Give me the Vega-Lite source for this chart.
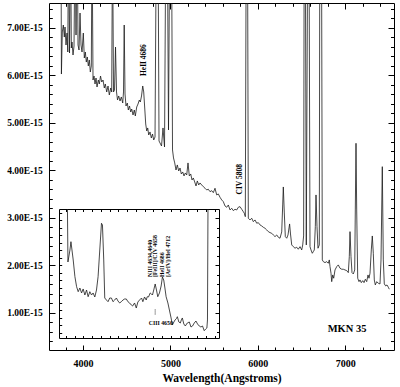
{
  "$schema": "https://vega.github.io/schema/vega-lite/v6.json",
  "width": 345,
  "height": 347,
  "autosize": "none",
  "padding": {"left": 49, "top": 3, "right": 6, "bottom": 37},
  "background": "white",
  "config": {
    "view": {"stroke": "black", "strokeWidth": 1},
    "axis": {"labelFont": "Liberation Serif", "labelFontWeight": "bold", "labelColor": "black", "tickColor": "black", "domainColor": "black", "grid": false, "titleFont": "Liberation Serif", "titleFontWeight": "bold", "titleColor": "black", "tickWidth": 1, "labelOverlap": false, "labelFlush": false},
    "text": {"font": "Liberation Serif", "fontWeight": "bold", "color": "black"}
  },
  "datasets": {
    "main": [
      {"wavelength":3748.5,"flux":9},{"wavelength":3753.1,"flux":6.026},{"wavelength":3763.4,"flux":6.91},{"wavelength":3774.9,"flux":7.057},{"wavelength":3786.3,"flux":6.804},{"wavelength":3794.3,"flux":7.015},{"wavelength":3805.7,"flux":6.636},{"wavelength":3817.2,"flux":6.889},{"wavelength":3826.3,"flux":6.489},{"wavelength":3833.2,"flux":9},{"wavelength":3845.8,"flux":6.468},{"wavelength":3858.4,"flux":9},{"wavelength":3866.4,"flux":6.573},{"wavelength":3874.4,"flux":6.699},{"wavelength":3885.8,"flux":6.426},{"wavelength":3897.3,"flux":6.615},{"wavelength":3908.7,"flux":9},{"wavelength":3920.1,"flux":6.846},{"wavelength":3933.9,"flux":9},{"wavelength":3943.0,"flux":6.636},{"wavelength":3954.5,"flux":6.531},{"wavelength":3965.9,"flux":7.309},{"wavelength":3977.3,"flux":6.636},{"wavelength":3988.8,"flux":6.489},{"wavelength":4003.6,"flux":6.888},{"wavelength":4015.1,"flux":6.363},{"wavelength":4026.5,"flux":6.489},{"wavelength":4038.0,"flux":6.278},{"wavelength":4049.4,"flux":6.384},{"wavelength":4060.9,"flux":6.195},{"wavelength":4072.3,"flux":6.321},{"wavelength":4083.7,"flux":6.068},{"wavelength":4095.2,"flux":6.195},{"wavelength":4103.2,"flux":9},{"wavelength":4114.6,"flux":5.9},{"wavelength":4126.1,"flux":5.984},{"wavelength":4137.5,"flux":5.816},{"wavelength":4149.0,"flux":5.942},{"wavelength":4160.4,"flux":5.753},{"wavelength":4175.3,"flux":5.9},{"wavelength":4186.7,"flux":5.816},{"wavelength":4200.4,"flux":5.984},{"wavelength":4214.1,"flux":5.858},{"wavelength":4229.0,"flux":5.9},{"wavelength":4243.9,"flux":5.732},{"wavelength":4255.3,"flux":5.816},{"wavelength":4271.3,"flux":5.648},{"wavelength":4286.2,"flux":5.774},{"wavelength":4301.1,"flux":5.585},{"wavelength":4317.1,"flux":5.732},{"wavelength":4328.5,"flux":5.648},{"wavelength":4337.7,"flux":9},{"wavelength":4349.1,"flux":5.648},{"wavelength":4360.6,"flux":5.69},{"wavelength":4372.0,"flux":6.594},{"wavelength":4383.5,"flux":5.648},{"wavelength":4394.9,"flux":5.48},{"wavelength":4408.7,"flux":5.564},{"wavelength":4423.5,"flux":5.458},{"wavelength":4438.4,"flux":5.543},{"wavelength":4454.4,"flux":5.416},{"wavelength":4463.5,"flux":5.648},{"wavelength":4471.5,"flux":7.057},{"wavelength":4480.7,"flux":5.606},{"wavelength":4492.1,"flux":5.353},{"wavelength":4507.0,"flux":5.416},{"wavelength":4518.5,"flux":5.269},{"wavelength":4532.2,"flux":5.353},{"wavelength":4545.9,"flux":5.227},{"wavelength":4557.3,"flux":5.29},{"wavelength":4572.2,"flux":5.164},{"wavelength":4587.1,"flux":5.269},{"wavelength":4598.5,"flux":5.143},{"wavelength":4614.5,"flux":5.332},{"wavelength":4629.4,"flux":5.395},{"wavelength":4644.3,"flux":5.479},{"wavelength":4655.7,"flux":5.437},{"wavelength":4669.5,"flux":5.564},{"wavelength":4683.2,"flux":5.774},{"wavelength":4694.6,"flux":5.648},{"wavelength":4706.1,"flux":5.311},{"wavelength":4717.5,"flux":4.975},{"wavelength":4729.0,"flux":4.828},{"wavelength":4740.4,"flux":4.891},{"wavelength":4751.8,"flux":4.743},{"wavelength":4766.7,"flux":4.807},{"wavelength":4781.6,"flux":4.68},{"wavelength":4795.3,"flux":4.764},{"wavelength":4809.0,"flux":4.638},{"wavelength":4823.9,"flux":4.701},{"wavelength":4838.8,"flux":9},{"wavelength":4858.2,"flux":9},{"wavelength":4869.7,"flux":4.617},{"wavelength":4881.1,"flux":4.575},{"wavelength":4898.3,"flux":4.512},{"wavelength":4915.4,"flux":4.891},{"wavelength":4932.6,"flux":4.491},{"wavelength":4947.5,"flux":9},{"wavelength":4964.6,"flux":9},{"wavelength":4978.3,"flux":4.849},{"wavelength":4992.1,"flux":9},{"wavelength":5012.7,"flux":9},{"wavelength":5024.1,"flux":4.428},{"wavelength":5035.6,"flux":4.26},{"wavelength":5049.3,"flux":4.155},{"wavelength":5064.1,"flux":4.007},{"wavelength":5079.0,"flux":4.113},{"wavelength":5095.0,"flux":3.986},{"wavelength":5109.9,"flux":4.049},{"wavelength":5124.8,"flux":3.923},{"wavelength":5140.8,"flux":3.965},{"wavelength":5155.7,"flux":3.881},{"wavelength":5170.6,"flux":3.944},{"wavelength":5186.7,"flux":3.902},{"wavelength":5201.4,"flux":4.155},{"wavelength":5216.3,"flux":3.881},{"wavelength":5232.3,"flux":3.923},{"wavelength":5247.2,"flux":3.797},{"wavelength":5262.1,"flux":3.839},{"wavelength":5278.1,"flux":3.755},{"wavelength":5293.0,"flux":3.671},{"wavelength":5307.9,"flux":3.776},{"wavelength":5323.9,"flux":3.692},{"wavelength":5338.7,"flux":3.734},
      {"wavelength":5358.1,"flux":3.692},{"wavelength":5376.5,"flux":3.656},{"wavelength":5396.1,"flux":3.623},{"wavelength":5415.1,"flux":3.587},{"wavelength":5433.6,"flux":3.602},{"wavelength":5453.1,"flux":3.551},{"wavelength":5472.5,"flux":3.572},{"wavelength":5490.9,"flux":3.53},{"wavelength":5510.3,"flux":3.623},{"wavelength":5529.7,"flux":3.482},{"wavelength":5548.1,"flux":3.503},{"wavelength":5567.5,"flux":3.433},{"wavelength":5587.0,"flux":3.376},{"wavelength":5605.3,"flux":3.341},{"wavelength":5624.7,"flux":3.25},{"wavelength":5644.2,"flux":3.223},{"wavelength":5662.5,"flux":3.271},{"wavelength":5682.1,"flux":3.166},{"wavelength":5701.3,"flux":3.202},{"wavelength":5719.7,"flux":3.152},{"wavelength":5739.1,"flux":3.181},{"wavelength":5758.5,"flux":3.166},{"wavelength":5776.9,"flux":3.223},{"wavelength":5796.3,"flux":3.236},{"wavelength":5815.7,"flux":3.181},{"wavelength":5834.0,"flux":3.131},{"wavelength":5845.5,"flux":3.097},{"wavelength":5857.0,"flux":3.025},{"wavelength":5867.2,"flux":9},{"wavelength":5882.2,"flux":9},{"wavelength":5891.3,"flux":2.992},{"wavelength":5910.7,"flux":2.956},{"wavelength":5930.2,"flux":2.992},{"wavelength":5948.5,"flux":2.92},{"wavelength":5967.9,"flux":2.956},{"wavelength":5987.4,"flux":2.887},{"wavelength":6005.7,"flux":2.899},{"wavelength":6025.1,"flux":2.851},{"wavelength":6044.6,"flux":2.83},{"wavelength":6062.9,"flux":2.802},{"wavelength":6082.3,"flux":2.781},{"wavelength":6101.7,"flux":2.746},{"wavelength":6120.1,"flux":2.71},{"wavelength":6139.5,"flux":2.689},{"wavelength":6159.0,"flux":2.676},{"wavelength":6177.3,"flux":2.64},{"wavelength":6196.7,"flux":2.605},{"wavelength":6216.2,"flux":2.64},{"wavelength":6234.5,"flux":2.592},{"wavelength":6253.9,"flux":2.571},{"wavelength":6273.4,"flux":2.704},{"wavelength":6284.8,"flux":3.271},{"wavelength":6291.7,"flux":3.65},{"wavelength":6303.1,"flux":3.103},{"wavelength":6314.6,"flux":2.605},{"wavelength":6330.7,"flux":2.571},{"wavelength":6345.4,"flux":2.64},{"wavelength":6356.9,"flux":2.788},{"wavelength":6363.7,"flux":2.872},{"wavelength":6374.0,"flux":2.661},{"wavelength":6387.7,"flux":2.43},{"wavelength":6406.0,"flux":2.394},{"wavelength":6425.5,"flux":2.361},{"wavelength":6444.9,"flux":2.382},{"wavelength":6463.2,"flux":2.34},{"wavelength":6482.7,"flux":2.394},{"wavelength":6502.1,"flux":2.325},{"wavelength":6513.6,"flux":2.43},{"wavelength":6523.9,"flux":2.619},{"wavelength":6530.7,"flux":9},{"wavelength":6543.3,"flux":9},{"wavelength":6554.8,"flux":2.43},{"wavelength":6570.7,"flux":9},{"wavelength":6585.7,"flux":9},{"wavelength":6597.1,"flux":2.394},{"wavelength":6608.5,"flux":2.325},{"wavelength":6623.4,"flux":2.255},{"wavelength":6634.9,"flux":2.289},{"wavelength":6646.3,"flux":2.325},{"wavelength":6657.8,"flux":2.815},{"wavelength":6665.7,"flux":3.482},{"wavelength":6677.2,"flux":2.815},{"wavelength":6688.6,"flux":2.361},{"wavelength":6703.5,"flux":2.43},{"wavelength":6709.2,"flux":9},{"wavelength":6728.7,"flux":9},{"wavelength":6737.8,"flux":2.115},{"wavelength":6749.3,"flux":2.079},{"wavelength":6768.7,"flux":2.058},{"wavelength":6788.2,"flux":2.079},{"wavelength":6806.5,"flux":2.045},{"wavelength":6817.9,"flux":2.115},{"wavelength":6825.9,"flux":1.974},{"wavelength":6837.3,"flux":1.835},{"wavelength":6845.4,"flux":1.658},{"wavelength":6856.8,"flux":1.799},{"wavelength":6868.2,"flux":1.73},{"wavelength":6883.1,"flux":1.904},{"wavelength":6902.6,"flux":1.974},{"wavelength":6920.9,"flux":2.01},{"wavelength":6940.3,"flux":1.94},{"wavelength":6959.8,"flux":1.919},{"wavelength":6978.1,"flux":1.919},{"wavelength":6997.5,"flux":1.904},{"wavelength":7017.0,"flux":1.89},{"wavelength":7035.3,"flux":1.848},{"wavelength":7046.7,"flux":2.184},{"wavelength":7054.7,"flux":2.71},{"wavelength":7066.1,"flux":2.184},{"wavelength":7077.6,"flux":1.848},{"wavelength":7092.5,"flux":1.82},{"wavelength":7108.5,"flux":1.904},{"wavelength":7115.3,"flux":3.166},{"wavelength":7123.3,"flux":4.569},{"wavelength":7131.3,"flux":3.166},{"wavelength":7142.8,"flux":1.73},{"wavelength":7157.7,"flux":1.658},{"wavelength":7169.1,"flux":1.694},{"wavelength":7184.0,"flux":1.637},{"wavelength":7200.0,"flux":1.679},{"wavelength":7214.9,"flux":1.637},{"wavelength":7229.8,"flux":1.709},{"wavelength":7245.7,"flux":1.658},{"wavelength":7260.6,"flux":1.799},{"wavelength":7272.1,"flux":1.73},{"wavelength":7283.5,"flux":1.835},{"wavelength":7298.4,"flux":2.325},{"wavelength":7309.8,"flux":2.619},{"wavelength":7321.3,"flux":2.255},{"wavelength":7332.7,"flux":1.694},{"wavelength":7344.1,"flux":1.589},{"wavelength":7360.2,"flux":1.658},{"wavelength":7378.5,"flux":1.624},{"wavelength":7397.9,"flux":1.61},{"wavelength":7409.3,"flux":2.115},{"wavelength":7424.2,"flux":4.077},{"wavelength":7435.6,"flux":2.115},{"wavelength":7447.1,"flux":1.61},{"wavelength":7463.1,"flux":1.568},{"wavelength":7478.0,"flux":1.589},{"wavelength":7492.8,"flux":1.541},{"wavelength":7504.3,"flux":1.499}
    ],
    "inset": [
      {"wavelength":4138.3,"flux":8.5},{"wavelength":4141.2,"flux":6.109},{"wavelength":4152.6,"flux":6.378},{"wavelength":4158.3,"flux":6.565},{"wavelength":4171.3,"flux":6.154},{"wavelength":4181.0,"flux":5.778},{"wavelength":4190.7,"flux":5.553},{"wavelength":4199.8,"flux":5.441},{"wavelength":4209.4,"flux":5.524},{"wavelength":4219.1,"flux":5.412},{"wavelength":4228.2,"flux":5.502},{"wavelength":4237.9,"flux":5.367},{"wavelength":4247.5,"flux":5.479},{"wavelength":4256.6,"flux":5.328},{"wavelength":4266.3,"flux":5.441},{"wavelength":4276.0,"flux":5.367},{"wavelength":4285.1,"flux":5.412},{"wavelength":4294.8,"flux":5.322},{"wavelength":4304.4,"flux":5.479},{"wavelength":4313.5,"flux":5.778},{"wavelength":4323.2,"flux":6.378},{"wavelength":4332.9,"flux":6.979},{"wavelength":4338.5,"flux":6.94},{"wavelength":4345.9,"flux":6.154},{"wavelength":4351.6,"flux":5.299},{"wavelength":4361.3,"flux":5.254},{"wavelength":4370.4,"flux":5.216},{"wavelength":4380.1,"flux":5.299},{"wavelength":4389.7,"flux":5.299},{"wavelength":4398.8,"flux":5.216},{"wavelength":4408.5,"flux":5.254},{"wavelength":4418.2,"flux":5.299},{"wavelength":4427.3,"flux":5.232},{"wavelength":4436.9,"flux":5.187},{"wavelength":4446.6,"flux":5.216},{"wavelength":4455.7,"flux":5.254},{"wavelength":4465.4,"flux":5.277},{"wavelength":4475.0,"flux":5.277},{"wavelength":4484.1,"flux":5.216},{"wavelength":4493.8,"flux":5.187},{"wavelength":4503.5,"flux":5.142},{"wavelength":4510.9,"flux":5.119},{"wavelength":4522.3,"flux":5.187},{"wavelength":4531.9,"flux":5.074},{"wavelength":4541.0,"flux":5.209},{"wavelength":4550.7,"flux":5.254},{"wavelength":4562.1,"flux":5.299},{"wavelength":4569.5,"flux":5.216},{"wavelength":4579.1,"flux":5.322},{"wavelength":4588.8,"flux":5.254},{"wavelength":4594.5,"flux":5.328},{"wavelength":4601.9,"flux":5.322},{"wavelength":4611.6,"flux":5.412},{"wavelength":4619.0,"flux":5.389},{"wavelength":4624.6,"flux":5.367},{"wavelength":4633.2,"flux":5.502},{"wavelength":4640.0,"flux":5.614},{"wavelength":4647.4,"flux":5.479},{"wavelength":4654.8,"flux":5.328},{"wavelength":4664.4,"flux":5.412},{"wavelength":4674.1,"flux":5.569},{"wavelength":4681.5,"flux":5.771},{"wavelength":4688.9,"flux":5.704},{"wavelength":4695.7,"flux":5.524},{"wavelength":4702.6,"flux":5.328},{"wavelength":4712.8,"flux":5.187},{"wavelength":4721.3,"flux":5.029},{"wavelength":4731.0,"flux":4.85},{"wavelength":4738.4,"flux":4.692},{"wavelength":4747.0,"flux":4.76},{"wavelength":4753.7,"flux":4.805},{"wavelength":4761.1,"flux":4.834},{"wavelength":4766.8,"flux":4.879},{"wavelength":4775.3,"flux":4.76},{"wavelength":4783.9,"flux":4.737},{"wavelength":4789.6,"flux":4.805},{"wavelength":4795.3,"flux":4.85},{"wavelength":4803.8,"flux":4.715},{"wavelength":4812.3,"flux":4.67},{"wavelength":4823.7,"flux":4.737},{"wavelength":4835.1,"flux":4.76},{"wavelength":4844.7,"flux":4.647},{"wavelength":4853.8,"flux":4.67},{"wavelength":4863.5,"flux":4.737},{"wavelength":4873.2,"flux":4.782},{"wavelength":4882.3,"flux":4.715},{"wavelength":4891.9,"flux":4.67},{"wavelength":4901.6,"flux":4.647},{"wavelength":4910.7,"flux":4.67},{"wavelength":4920.4,"flux":4.564},{"wavelength":4928.9,"flux":4.602},{"wavelength":4935.7,"flux":4.625},{"wavelength":4939.1,"flux":4.805},{"wavelength":4942.0,"flux":8.5}
    ],
    "lineLabels": [
      {"wavelength":4692.3,"flux":5.984,"label":"HeII 4686"},
      {"wavelength":5799.7,"flux":3.492,"label":"CIV 5808"}
    ],
    "object": [
      {"wavelength":6799.5,"flux":0.67,"label":"MKN 35"}
    ],
    "insetLabels": [
      {"wavelength":4607.6,"flux":5.771,"label":"NIII 4634,4640"},
      {"wavelength":4641.7,"flux":5.771,"label":"[FeIII]/CIV 4658"},
      {"wavelength":4677.5,"flux":5.771,"label":"HeII 4686"},
      {"wavelength":4712.8,"flux":5.771,"label":"[ArIV]/HeI 4712"}
    ],
    "insetNote": [
      {"wavelength":4603.6,"flux":4.737,"label":"CIII 4650"}
    ],
    "insetMarker": [
      {"wavelength":4640,"flux":5.041,"flux2":4.929}
    ]
  },
  "resolve": {"scale": {"x": "independent", "y": "independent"}, "axis": {"x": "independent", "y": "independent"}},
  "layer": [
    {
      "data": {"name": "main"},
      "mark": {"type": "line", "clip": true, "color": "#1a1a1a", "strokeWidth": 0.8},
      "encoding": {
        "x": {"field": "wavelength", "type": "quantitative", "scale": {"domain": [3611, 7558], "nice": false, "zero": false},
          "axis": {"orient": "bottom", "values": [3800,4000,4200,4400,4600,4800,5000,5200,5400,5600,5800,6000,6200,6400,6600,6800,7000,7200,7400],
            "labelExpr": "datum.value % 1000 === 0 ? format(datum.value, 'd') : ''",
            "tickSize": {"condition": {"test": "datum.value % 1000 === 0", "value": -5}, "value": -3},
            "labelPadding": 13, "labelFontSize": 10, "domain": false,
            "title": "Wavelength(Angstroms)", "titleFontSize": 11.5, "titleY": 31, "titleBaseline": "alphabetic"}},
        "y": {"field": "flux", "type": "quantitative", "scale": {"domain": [0.22, 7.52], "nice": false, "zero": false},
          "axis": {"orient": "left", "values": [0.4,0.6,0.8,1,1.2,1.4,1.6,1.8,2,2.2,2.4,2.6,2.8,3,3.2,3.4,3.6,3.8,4,4.2,4.4,4.6,4.8,5,5.2,5.4,5.6,5.8,6,6.2,6.4,6.6,6.8,7,7.2,7.4],
            "labelExpr": "abs(datum.value - round(datum.value)) < 0.01 ? format(datum.value, '.2f') + 'E-15' : ''",
            "tickSize": {"condition": {"test": "abs(datum.value - round(datum.value)) < 0.01", "value": -6}, "value": -3.3},
            "labelPadding": 12.7, "labelFontSize": 9.5, "domain": false, "title": null}}
      }
    },
    {
      "data": {"name": "lineLabels"},
      "mark": {"type": "text", "angle": 270, "align": "left", "baseline": "middle", "fontSize": 7.5},
      "encoding": {
        "x": {"field": "wavelength", "type": "quantitative", "scale": {"domain": [3611, 7558], "nice": false, "zero": false},
          "axis": {"orient": "top", "values": [3800,4000,4200,4400,4600,4800,5000,5200,5400,5600,5800,6000,6200,6400,6600,6800,7000,7200,7400],
            "labels": false, "tickSize": {"condition": {"test": "datum.value % 1000 === 0", "value": -6}, "value": -3.3}, "domain": false, "title": null}},
        "y": {"field": "flux", "type": "quantitative", "scale": {"domain": [0.22, 7.52], "nice": false, "zero": false},
          "axis": {"orient": "right", "values": [0.4,0.6,0.8,1,1.2,1.4,1.6,1.8,2,2.2,2.4,2.6,2.8,3,3.2,3.4,3.6,3.8,4,4.2,4.4,4.6,4.8,5,5.2,5.4,5.6,5.8,6,6.2,6.4,6.6,6.8,7,7.2,7.4],
            "labels": false, "tickSize": {"condition": {"test": "abs(datum.value - round(datum.value)) < 0.01", "value": -6}, "value": -3.5}, "domain": false, "title": null}},
        "text": {"field": "label"}
      }
    },
    {
      "data": {"name": "object"},
      "mark": {"type": "text", "align": "left", "baseline": "middle", "fontSize": 10.5},
      "encoding": {
        "x": {"field": "wavelength", "type": "quantitative", "scale": {"domain": [3611, 7558], "nice": false, "zero": false}, "axis": null},
        "y": {"field": "flux", "type": "quantitative", "scale": {"domain": [0.22, 7.52], "nice": false, "zero": false}, "axis": null},
        "text": {"field": "label"}
      }
    },
    {
      "data": {"name": "inset"},
      "mark": {"type": "line", "color": "#1a1a1a", "strokeWidth": 0.8},
      "encoding": {
        "x": {"field": "wavelength", "type": "quantitative", "scale": {"domain": [4090, 5005], "range": [10, 170], "nice": false, "zero": false},
          "axis": {"orient": "bottom", "offset": -12, "values": [4130,4180,4230,4280,4330,4380,4430,4480,4530,4580,4630,4680,4730,4780,4830,4880,4930,4980],
            "labels": false, "tickSize": -2.5, "domain": true, "title": null}},
        "y": {"field": "flux", "type": "quantitative", "scale": {"domain": [4.4, 7.3], "range": [335, 206], "nice": false, "zero": false, "clamp": true},
          "axis": {"orient": "left", "offset": -10, "values": [4.519,4.688,4.856,5.025,5.194,5.362,5.531,5.699,5.868,6.037,6.205,6.374,6.543,6.711,6.88,7.048,7.217],
            "labels": false, "tickSize": -2.7, "domain": true, "title": null}}
      }
    },
    {
      "data": {"name": "insetLabels"},
      "mark": {"type": "text", "angle": 270, "align": "left", "baseline": "middle", "fontSize": 5.8},
      "encoding": {
        "x": {"field": "wavelength", "type": "quantitative", "scale": {"domain": [4090, 5005], "range": [10, 170], "nice": false, "zero": false},
          "axis": {"orient": "top", "offset": -206, "values": [4130,4180,4230,4280,4330,4380,4430,4480,4530,4580,4630,4680,4730,4780,4830,4880,4930,4980],
            "labels": false, "tickSize": -2.5, "domain": true, "title": null}},
        "y": {"field": "flux", "type": "quantitative", "scale": {"domain": [4.4, 7.3], "range": [335, 206], "nice": false, "zero": false},
          "axis": {"orient": "right", "offset": -175, "values": [7.098,6.884,6.671,6.457,6.244,6.03,5.816,5.603,5.389,5.176,4.962,4.748,4.535],
            "labels": false, "tickSize": {"condition": {"test": "indexof([7.098, 6.03, 4.962], datum.value) >= 0", "value": -4}, "value": -2.5}, "domain": true, "title": null}},
        "text": {"field": "label"}
      }
    },
    {
      "data": {"name": "insetNote"},
      "mark": {"type": "text", "align": "left", "baseline": "middle", "fontSize": 5.8},
      "encoding": {
        "x": {"field": "wavelength", "type": "quantitative", "scale": {"domain": [4090, 5005], "range": [10, 170], "nice": false, "zero": false}, "axis": null},
        "y": {"field": "flux", "type": "quantitative", "scale": {"domain": [4.4, 7.3], "range": [335, 206], "nice": false, "zero": false}, "axis": null},
        "text": {"field": "label"}
      }
    },
    {
      "data": {"name": "insetMarker"},
      "mark": {"type": "rule", "color": "black", "strokeWidth": 0.8, "strokeDash": [1, 1]},
      "encoding": {
        "x": {"field": "wavelength", "type": "quantitative", "scale": {"domain": [4090, 5005], "range": [10, 170], "nice": false, "zero": false}, "axis": null},
        "y": {"field": "flux", "type": "quantitative", "scale": {"domain": [4.4, 7.3], "range": [335, 206], "nice": false, "zero": false}, "axis": null},
        "y2": {"field": "flux2"}
      }
    }
  ]
}
